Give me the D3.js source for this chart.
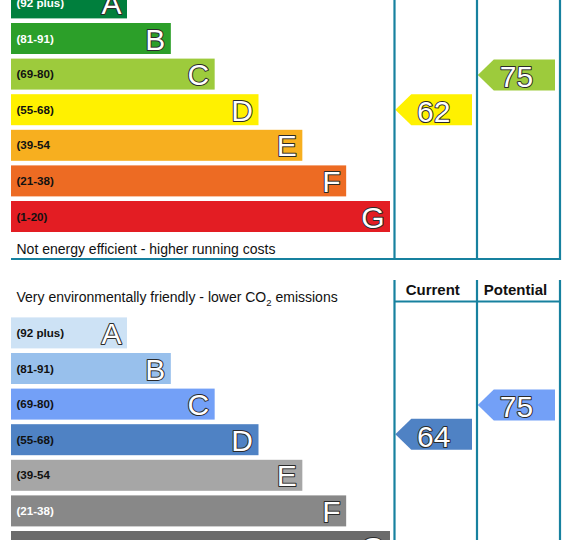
<!DOCTYPE html>
<html>
<head>
<meta charset="utf-8">
<script src="https://cdn.jsdelivr.net/npm/d3@7"></script>
<style>
  body { margin: 0; background: #fff; }
  svg { display: block; font-family: Arial, "Liberation Sans", sans-serif; }
</style>
</head>
<body>
<div id="chart"></div>
<script>
// ratings data
const bands = ["A", "B", "C", "D", "E", "F", "G"];
const ranges = ["(92 plus)", "(81-91)", "(69-80)", "(55-68)", "(39-54", "(21-38)", "(1-20)"];
const bandMin = [92, 81, 69, 55, 39, 21, 1];
const headers = ["Current", "Potential"];
const energyValues = [62, 75];      // current, potential
const envValues = [64, 75];

// colours
const energyColors = ["#007f3d", "#2c9f29", "#9dcb3c", "#fff100", "#f7af1f", "#ed6b23", "#e31d23"];
const energyLabel = ["#fff", "#fff", "#111", "#111", "#111", "#111", "#111"];
const envColors = ["#cde2f5", "#98c0ec", "#73a0f7", "#4f82c4", "#a6a6a6", "#888888", "#6b6b6b"];
const envLabel = ["#111", "#111", "#111", "#111", "#111", "#fff", "#fff"];
const lineCol = "#17819f";

const width = 570, height = 540;
const step = 35.6, gap = 4.6;

const svg = d3.select("#chart").append("svg")
  .attr("width", width)
  .attr("height", height);

// bar length grows by band
const xLen = d3.scaleLinear().domain([0, 6]).range([116, 379]);
const x0 = 11;
const colX = [394.5, 477, 560];

function bandOf(v) {
  return bands[bandMin.findIndex(m => v >= m)];
}

// white glyph with dark outline
function outlined(sel) {
  return sel.attr("font-size", 30)
    .attr("fill", "#fff")
    .attr("stroke", "#2a2a2a")
    .attr("stroke-width", 2)
    .attr("stroke-linejoin", "round")
    .attr("paint-order", "stroke");
}

function panel(top, colors, labelCols, values) {
  const g = svg.append("g");
  const y = d3.scaleBand().domain(bands)
    .range([top, top + 7 * step - gap])
    .paddingInner(gap / step).paddingOuter(0);

  const rows = g.selectAll("g.row").data(bands).enter().append("g").attr("class", "row");
  rows.append("rect")
    .attr("x", x0)
    .attr("y", d => y(d))
    .attr("width", (d, i) => xLen(i))
    .attr("height", y.bandwidth())
    .attr("fill", (d, i) => colors[i]);
  rows.append("text")
    .attr("x", x0 + 5.5)
    .attr("y", d => y(d) + y.bandwidth() / 2 + 4)
    .attr("font-size", 11.6)
    .attr("font-weight", "bold")
    .attr("fill", (d, i) => labelCols[i])
    .text((d, i) => ranges[i]);
  rows.append("text")
    .attr("x", (d, i) => x0 + xLen(i) - 5.5)
    .attr("y", d => y(d) + y.bandwidth() / 2 + 11)
    .attr("text-anchor", "end")
    .call(outlined)
    .text(d => d);

  // arrow position by value
  const center = d => y(d) + y.bandwidth() / 2;
  const yv = d3.scaleLinear().domain([22, 102]).range([center("G"), center("A")]);
  const h = y.bandwidth(), head = 16;
  values.forEach((v, k) => {
    const xl = colX[k] + 0.8, xr = colX[k + 1] - 5;
    const yc = yv(v);
    const ci = bands.indexOf(bandOf(v));
    g.append("path")
      .attr("d", `M${xl},${yc} L${xl + head},${yc - h / 2} L${xr},${yc - h / 2} L${xr},${yc + h / 2} L${xl + head},${yc + h / 2} Z`)
      .attr("fill", colors[ci]);
    g.append("text")
      .attr("x", (xl + xr) / 2)
      .attr("y", yc + 12.5)
      .attr("text-anchor", "middle")
      .call(outlined)
      .text(v);
  });
  return y;
}

// top: energy efficiency
panel(-12.6, energyColors, energyLabel, energyValues);

svg.append("text")
  .attr("x", 16.5).attr("y", 253.5)
  .attr("font-size", 14)
  .attr("fill", "#111")
  .text("Not energy efficient - higher running costs");

// top frame
colX.forEach(cx => {
  svg.append("line").attr("x1", cx).attr("x2", cx).attr("y1", -5).attr("y2", 260)
    .attr("stroke", lineCol).attr("stroke-width", 2.2);
});
svg.append("line").attr("x1", x0).attr("x2", colX[2] + 1).attr("y1", 259).attr("y2", 259)
  .attr("stroke", lineCol).attr("stroke-width", 2.2);

// bottom: environmental impact
const t = svg.append("text")
  .attr("x", 16.5).attr("y", 302.3)
  .attr("font-size", 14)
  .attr("fill", "#111");
t.append("tspan").text("Very environmentally friendly - lower CO");
t.append("tspan").attr("dy", 4).attr("font-size", 9.5).text("2");
t.append("tspan").attr("dy", -4).text(" emissions");

panel(317.4, envColors, envLabel, envValues);

colX.forEach(cx => {
  svg.append("line").attr("x1", cx).attr("x2", cx).attr("y1", 280).attr("y2", 545)
    .attr("stroke", lineCol).attr("stroke-width", 2.2);
});
svg.append("line").attr("x1", colX[0]).attr("x2", colX[2] + 1).attr("y1", 301.5).attr("y2", 301.5)
  .attr("stroke", lineCol).attr("stroke-width", 2.2);

svg.selectAll("text.head").data(headers).enter().append("text")
  .attr("class", "head")
  .attr("x", (d, i) => (colX[i] + colX[i + 1]) / 2 - 3)
  .attr("y", 294.5)
  .attr("text-anchor", "middle")
  .attr("font-size", 15)
  .attr("font-weight", "bold")
  .attr("fill", "#111")
  .text(d => d);
</script>
</body>
</html>
